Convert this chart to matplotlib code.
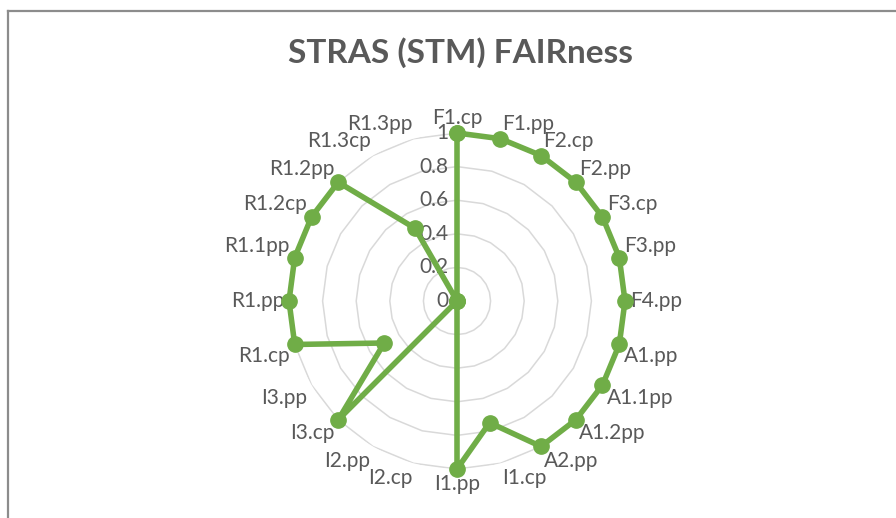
import numpy as np
import matplotlib
matplotlib.use('Agg')
import matplotlib.pyplot as plt
from matplotlib.lines import Line2D

TITLE = 'STRAS (STM) FAIRness'

CATEGORIES = ['F1.cp', 'F1.pp', 'F2.cp', 'F2.pp', 'F3.cp', 'F3.pp', 'F4.pp',
              'A1.pp', 'A1.1pp', 'A1.2pp', 'A2.pp', 'I1.cp', 'I1.pp',
              'I2.cp', 'I2.pp', 'I3.cp', 'I3.pp', 'R1.cp', 'R1.pp',
              'R1.1pp', 'R1.2cp', 'R1.2pp', 'R1.3cp', 'R1.3pp']
VALUES = [1, 1, 1, 1, 1, 1, 1,
          1, 1, 1, 1, 0.75, 1,
          0, 0, 1, 0.5, 1, 1,
          1, 1, 1, 0.5, 0]
R_TICKS = [0, 0.2, 0.4, 0.6, 0.8, 1]
R_TICK_LABELS = ['0', '0.2', '0.4', '0.6', '0.8', '1']

GREEN = '#70AD47'
TEXT_GRAY = '#595959'
GRID_GRAY = '#D9D9D9'

plt.rcParams['font.family'] = ['Lato', 'DejaVu Sans']

W, H = 896, 518
fig = plt.figure(figsize=(W / 100, H / 100), dpi=100)

# chart border (left + top visible, rest cropped)
fig.add_artist(Line2D([8 / W, 8 / W], [0, 1 - 11 / H], color='#8C8C8C', lw=1.6,
                      transform=fig.transFigure))
fig.add_artist(Line2D([8 / W, 1], [1 - 11 / H, 1 - 11 / H], color='#8C8C8C', lw=1.6,
                      transform=fig.transFigure))

fig.text(460 / W, 1 - 53 / H, TITLE, ha='center', va='center', fontsize=24,
         fontweight='bold', color=TEXT_GRAY)

# polar axes placed so centre ~ (457, 301), radius ~168 px
cx, cy, rad = 457, 301, 168
ax = fig.add_axes([(cx - rad) / W, 1 - (cy + rad) / H, 2 * rad / W, 2 * rad / H],
                  projection='polar')
ax.set_theta_zero_location('N')
ax.set_theta_direction(-1)
ax.set_ylim(0, 1)
ax.grid(False)
ax.set_xticks([])
ax.set_yticks([])
ax.spines['polar'].set_visible(False)
ax.patch.set_alpha(0)

n = len(CATEGORIES)
angles = np.arange(n) * 2 * np.pi / n
closed = np.append(angles, angles[0])

# polygon gridlines
for r in R_TICKS[1:]:
    ax.plot(closed, [r] * (n + 1), color=GRID_GRAY, lw=1.1, zorder=1)

# radial axis labels
for r, lab in zip(R_TICKS, R_TICK_LABELS):
    ax.annotate(lab, xy=(0, r), xytext=(-6, 0), textcoords='offset points',
                ha='right', va='center', fontsize=15, color=TEXT_GRAY, zorder=2)

# category labels
for ang, lab in zip(angles, CATEGORIES):
    s, c = np.sin(ang), np.cos(ang)
    ha = 'center' if abs(s) < 0.01 else ('left' if s > 0 else 'right')
    va = 'center' if abs(c) < 0.01 else ('bottom' if c > 0 else 'top')
    ax.text(ang, 1.03, lab, ha=ha, va=va, fontsize=15, color=TEXT_GRAY,
            clip_on=False, zorder=2)

vals = VALUES + VALUES[:1]
ax.plot(closed, vals, color=GREEN, lw=4, marker='o', markersize=11,
        solid_joinstyle='round', clip_on=False, zorder=5)

fig.savefig('out.png', dpi=100)
